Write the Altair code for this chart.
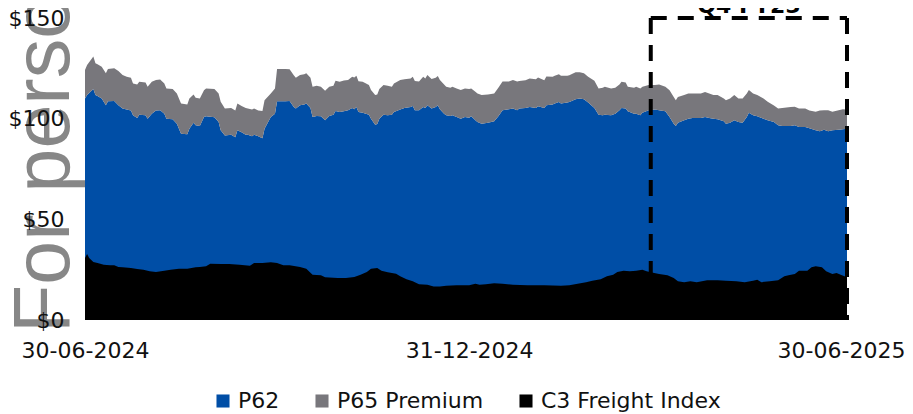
import altair as alt
import pandas as pd

START = "2024-06-30"

# ---- P62 and P65 premium (shared day grid, days after 30-06-2024) ----
p_days = [0, 1, 4, 5, 6, 8, 10, 11, 14, 16, 18, 20, 22, 23, 25, 26, 29, 30, 32, 34,
          36, 38, 39, 42, 44, 46, 49, 50, 52, 53, 55, 57, 58, 62, 64, 65, 67, 70, 72, 73,
          75, 77, 78, 80, 81, 83, 85, 86, 89, 91, 92, 96, 98, 100, 101, 103, 105, 106, 108, 109,
          111, 113, 115, 117, 119, 120, 122, 124, 126, 128, 129, 130, 131, 133, 136, 137, 139, 140, 141, 143,
          145, 147, 148, 151, 153, 156, 157, 158, 160, 162, 163, 164, 166, 168, 169, 170, 172, 173, 175, 176,
          178, 180, 182, 184, 185, 187, 188, 190, 193, 196, 198, 200, 203, 205, 207, 208, 211, 213, 216, 217,
          220, 221, 224, 225, 227, 228, 231, 232, 235, 237, 239, 241, 244, 246, 248, 249, 252, 254, 256, 257,
          259, 260, 263, 264, 266, 267, 270, 273, 275, 278, 280, 282, 283, 284, 287, 289, 291, 295, 297, 299,
          301, 303, 306, 307, 309, 311, 313, 315, 317, 318, 320, 322, 325, 327, 330, 332, 334, 338, 340, 342,
          345, 347, 350, 352, 354, 356, 358, 361, 363, 365]

p62 = [110, 111.7, 114.7, 111.7, 111.2, 110, 106.7, 108.7, 108.8, 106.7, 105, 104.5, 104, 101.7, 100.3, 102, 101.7, 100, 102.5, 104,
       104.2, 102.5, 100, 99.7, 97.5, 92.5, 92.2, 95, 98, 96.7, 96.3, 100.8, 101.2, 100.7, 98.3, 94.2, 91.7, 92, 90.8, 94.2,
       93.3, 92, 92, 91.3, 92, 91.3, 90.3, 95, 100.8, 102.5, 108.7, 108.7, 108.8, 105.8, 105, 106.7, 107, 107.5, 105.3, 100.8,
       101.3, 101.2, 99.2, 101.3, 102, 103.8, 103.3, 103.7, 104.2, 105.3, 104.7, 105.8, 103.3, 103, 102, 100, 97, 97.3, 100, 102,
       101.7, 102, 103.3, 104.5, 105.3, 105.8, 106.3, 104.2, 104.2, 105.8, 105.3, 106.7, 105, 105.8, 106.7, 104.7, 102.5, 101.7, 101.3, 101.7,
       100.8, 100, 100.8, 100.5, 101.2, 99.2, 98.3, 97.5, 98, 98.7, 101.2, 104.2, 104.7, 105, 104.2, 105, 105.3, 105.8, 105.3, 106.2,
       105.3, 106.7, 107, 107.5, 108.3, 107.5, 108, 108.3, 109.7, 110, 109.7, 108, 105.3, 102, 101.7, 102, 101.7, 102.5, 104.2, 105.3,
       105, 103.7, 102.5, 102.5, 101.7, 103, 104.2, 104.5, 104.2, 103.7, 100.8, 97.5, 96.3, 98, 99.2, 100, 100.3, 100.3, 100.8, 100.3,
       100, 99.7, 98.7, 97.5, 98, 99.2, 98.3, 98, 100.8, 103, 101.7, 101.2, 100, 99.2, 98.3, 96.7, 96.3, 96.3, 96.7, 95.8,
       95.8, 95.3, 94.2, 93.8, 94.5, 93.7, 94.2, 94.5, 94.7, 95]

p65_premium = [14.2, 15, 16.2, 15.8, 15.8, 15.8, 15.8, 16, 16.2, 17, 16.7, 16.3, 16.3, 15.8, 16.7, 16.3, 16.3, 15.8, 15.8, 15.2,
               15.3, 15, 15, 15, 15, 15, 14.8, 15, 14, 13.7, 13.7, 13.3, 13.8, 14, 14.2, 14.2, 13.3, 13.3, 13.3, 13.3,
               13, 13.3, 13, 13.2, 13, 12.8, 13.5, 14.2, 11.7, 12.5, 16, 16, 15.8, 15.8, 15.3, 15, 15, 15, 15, 15,
               15, 14.7, 14.7, 14.5, 14.3, 15, 15, 15.2, 15, 15.5, 15.7, 15.5, 15.3, 15.3, 14.7, 14.2, 14.7, 14.7, 14.7, 14.7,
               14.7, 13.8, 14.2, 14.7, 14.3, 14.2, 14.5, 14.5, 14.2, 15, 14.7, 15, 14.7, 14.5, 14.5, 14.5, 14.5, 14.2, 14, 14.2,
               14.2, 14.2, 14.2, 14.2, 13.8, 14.2, 14.2, 14.2, 14, 13.8, 14.2, 14.2, 13.7, 14.2, 14.2, 13.7, 13.8, 14.2, 14.3, 14.2,
               13.8, 14.2, 13.8, 13.8, 13.7, 13.8, 13.3, 13.3, 13.3, 13, 12.8, 12.8, 13.5, 13, 13.7, 13.8, 13.3, 12.8, 12.8, 13,
               13, 12.2, 12.8, 13.3, 13.3, 12.8, 12.5, 12.2, 12.8, 12.2, 13.3, 13.3, 12.8, 12.8, 12.5, 12.5, 12.2, 12.2, 12.5, 12.2,
               11.7, 12, 11.3, 11.7, 12, 12.5, 11.7, 12, 11.7, 11.2, 10.8, 10.5, 10, 9.2, 8.3, 8.3, 9, 9.5, 9.2, 9.2,
               9.2, 8.8, 9.2, 10.3, 9.7, 10.5, 9.2, 9.7, 10, 9.5]

# ---- C3 freight index ----
c3_days = [0, 1, 2, 4, 6, 9, 12, 14, 16, 18, 22, 25, 28, 31, 34, 38, 41, 45, 49, 53,
           55, 58, 60, 65, 69, 74, 79, 81, 85, 89, 92, 95, 98, 103, 106, 109, 113, 115, 121, 125,
           129, 132, 135, 137, 140, 142, 145, 149, 151, 154, 157, 160, 164, 167, 170, 173, 178, 184, 187, 189,
           192, 196, 200, 205, 212, 220, 228, 232, 236, 240, 243, 247, 250, 253, 255, 258, 261, 264, 267, 269,
           271, 275, 279, 282, 284, 287, 290, 293, 298, 303, 307, 312, 316, 320, 322, 324, 328, 332, 335, 337,
           340, 342, 346, 348, 350, 353, 355, 358, 360, 362, 365]
c3_freight = [30.8, 32.8, 30.8, 28.8, 28.3, 27.5, 27.2, 27.2, 26.3, 26.2, 25.8, 25.3, 25, 24.2, 23.8, 24.5, 25, 25.5, 25.5, 26.2,
              26.3, 26.7, 28, 27.8, 27.8, 27.5, 27, 28.3, 28.3, 28.7, 28.3, 27.2, 27.2, 26.3, 25.5, 22.5, 22.2, 21.2, 20.8, 20.8,
              21.3, 22.5, 23.8, 25.5, 25.8, 24.5, 23.7, 23, 21.7, 20.3, 19.2, 17.8, 17.5, 16.7, 16.7, 17, 17.2, 17.2, 18, 17.5,
              17.8, 18.3, 18, 17.5, 17.2, 17.2, 17, 17.2, 18, 18.8, 19.5, 20.3, 21.7, 22.5, 23.8, 24.5, 24.2, 24.5, 25, 24.2,
              23.7, 22.8, 22.2, 20.8, 19.2, 18.8, 19.2, 18.8, 19.7, 19.7, 19.5, 19.2, 18.8, 19.5, 20, 18.8, 19.2, 19.7, 21.7, 22.2,
              22.8, 24.5, 24.5, 26.2, 26.7, 26.2, 24.2, 22.8, 23.3, 22.5, 21.2]

series_names = ["P62", "P65 Premium", "C3 Freight Index"]
series_colors = ["#004ea6", "#78777c", "#000000"]
y_ticks = [0, 50, 100, 150]
x_ticks = ["2024-06-30", "2024-12-31", "2025-06-30"]

box_start_day = 271
box_end_day = 365
box_top = 150
box_label = "Q4 FY25"
box_label_level = 152.5
watermark_text = "For personal use only"


def to_date(d):
    return (pd.Timestamp(START) + pd.Timedelta(days=d)).strftime("%Y-%m-%d")


def to_dt(s):
    t = pd.Timestamp(s)
    return alt.DateTime(year=t.year, month=t.month, date=t.day, utc=True)


p_dates = [to_date(d) for d in p_days]
pdf = pd.concat([
    pd.DataFrame({"date": p_dates, "value": p62, "series": "P62", "ord": 0}),
    pd.DataFrame({"date": p_dates, "value": p65_premium, "series": "P65 Premium", "ord": 1}),
])
cdf = pd.DataFrame({"date": [to_date(d) for d in c3_days], "value": c3_freight,
                    "series": "C3 Freight Index"})
box_df = pd.DataFrame({"start": [to_date(box_start_day)], "end": [to_date(box_end_day)],
                       "mid": [to_date((box_start_day + box_end_day) / 2)],
                       "top": [box_top], "bottom": [0], "lvl": [box_label_level],
                       "label": [box_label]})
wm_df = pd.DataFrame({"date": [to_date(0)], "value": [0], "text": [watermark_text]})

FONT = "DejaVu Sans"
x_scale = alt.Scale(type="utc", domain=[to_dt(x_ticks[0]), to_dt(x_ticks[-1])])
y_scale = alt.Scale(domain=[0, 150], nice=False)

x_axis = alt.Axis(values=[to_dt(s) for s in x_ticks], labelExpr="utcFormat(datum.value, '%d-%m-%Y')",
                  title=None, grid=False, domain=False, ticks=False, tickSize=0,
                  labelPadding=20, labelFont=FONT, labelFontSize=22, labelColor="#111111",
                  labelFlush=False, labelOverlap=False, zindex=1,
                  labelOffset={"condition": {"test": "datum.index === 1", "value": -6}, "value": 0})
y_axis = alt.Axis(values=y_ticks, labelExpr="'$' + datum.value", title=None, grid=False,
                  domain=False, ticks=False, tickSize=0, labelPadding=21, labelFont=FONT,
                  labelFontSize=22, labelColor="#111111", zindex=1)

color = alt.Color("series:N", scale=alt.Scale(domain=series_names, range=series_colors),
                  legend=alt.Legend(title=None, orient="none", legendX=127, legendY=372,
                                    direction="horizontal", symbolType="square", symbolSize=170,
                                    symbolStrokeWidth=0, symbolOpacity=1, labelFont=FONT,
                                    labelFontSize=22, labelColor="#111111", columnPadding=31,
                                    padding=0, labelOffset=4, labelLimit=0))

watermark = alt.Chart(wm_df).mark_text(
    angle=270, align="left", baseline="alphabetic", fontSize=79, font="Liberation Sans",
    color="#878787", dx=-13, dy=-16
).encode(
    x=alt.X("date:T", scale=x_scale, axis=x_axis),
    y=alt.Y("value:Q", scale=y_scale, axis=y_axis),
    text="text:N",
)

areas = alt.Chart(pdf).mark_area(opacity=1, interpolate="linear").encode(
    x=alt.X("date:T", scale=x_scale, axis=x_axis),
    y=alt.Y("value:Q", stack="zero", scale=y_scale, axis=y_axis),
    color=color,
    order=alt.Order("ord:Q"),
)

c3 = alt.Chart(cdf).mark_area(opacity=1, interpolate="linear").encode(
    x=alt.X("date:T", scale=x_scale),
    y=alt.Y("value:Q", scale=y_scale),
    color=color,
)

dash = dict(color="black", strokeWidth=4, strokeDash=[16, 11])
left_rule = alt.Chart(box_df).mark_rule(**dash).encode(
    x=alt.X("start:T", scale=x_scale), y=alt.Y("top:Q", scale=y_scale), y2="bottom:Q")
right_rule = alt.Chart(box_df).mark_rule(**dash).encode(
    x=alt.X("end:T", scale=x_scale), y=alt.Y("top:Q", scale=y_scale), y2="bottom:Q")
top_rule = alt.Chart(box_df).mark_rule(**dash).encode(
    x=alt.X("start:T", scale=x_scale), x2="end:T", y=alt.Y("top:Q", scale=y_scale))
label = alt.Chart(box_df).mark_text(
    font=FONT, fontSize=22, fontWeight="bold", color="black", align="center", baseline="alphabetic"
).encode(x=alt.X("mid:T", scale=x_scale), y=alt.Y("lvl:Q", scale=y_scale), text="label:N")

chart = alt.layer(watermark, areas, c3, left_rule, right_rule, top_rule, label).properties(
    width=762, height=302,
    autosize=alt.AutoSizeParams(type="none"),
    padding={"left": 77, "top": 10, "right": 58, "bottom": 94},
).configure_view(stroke=None)

chart.save("out.html", embed_options={"renderer": "svg", "actions": False})
